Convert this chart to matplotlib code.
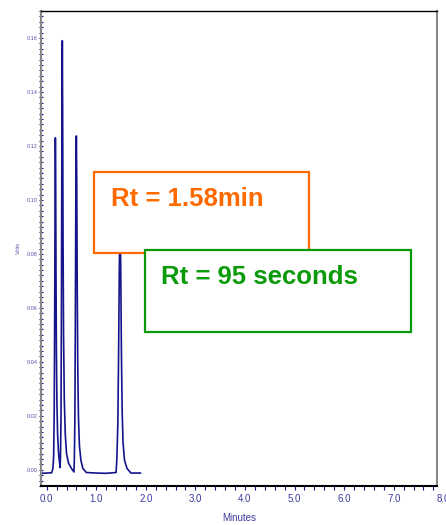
import matplotlib
matplotlib.use("Agg")
import matplotlib.pyplot as plt
from matplotlib.patches import Rectangle
from matplotlib.ticker import MultipleLocator
import matplotlib.transforms as mtransforms

plt.rcParams["font.family"] = ["Liberation Sans", "DejaVu Sans"]

# chromatogram trace (minutes, volts)
minutes = [-0.115, 0.00, 0.10, 0.125, 0.14, 0.152, 0.162, 0.170, 0.175, 0.181, 0.188,
           0.196, 0.206, 0.22, 0.24, 0.26, 0.27,
           0.278, 0.288, 0.298, 0.307, 0.315, 0.322, 0.33, 0.34, 0.355, 0.375, 0.40,
           0.44, 0.50, 0.55,
           0.558, 0.568, 0.578, 0.589, 0.598, 0.606, 0.615, 0.626, 0.64, 0.66, 0.69,
           0.73, 0.80, 1.00, 1.20, 1.40,
           1.415, 1.435, 1.45, 1.465, 1.48, 1.493, 1.507, 1.522, 1.54, 1.57, 1.62,
           1.70, 1.80, 1.89]
volts = [-0.0013, -0.0012, -0.0011, 0.0005, 0.005, 0.022, 0.062, 0.105, 0.123, 0.108, 0.072,
         0.043, 0.025, 0.013, 0.006, 0.0025, 0.0008,
         0.005, 0.018, 0.065, 0.128, 0.159, 0.132, 0.085, 0.050, 0.026, 0.013, 0.006,
         0.0025, 0.0005, -0.0008,
         0.004, 0.018, 0.055, 0.108, 0.1237, 0.108, 0.070, 0.040, 0.020, 0.009, 0.0035,
         0.0005, -0.0010, -0.0012, -0.0013, -0.0010,
         0.004, 0.017, 0.042, 0.075, 0.090, 0.076, 0.044, 0.022, 0.010, 0.0035, 0.0005,
         -0.0012, -0.0012, -0.0012]

x_ticks = [0, 1, 2, 3, 4, 5, 6, 7]
y_ticks = [0.00, 0.02, 0.04, 0.06, 0.08, 0.10, 0.12, 0.14, 0.16]

notes = ["Rt = 1.58min", "Rt = 95 seconds"]
note_colors = ["#ff6a00", "#0a9a0a"]

fig = plt.figure(figsize=(4.46, 5.25), dpi=100)
ax = fig.add_axes([41 / 446, 1 - 486 / 525, 396.3 / 446, 475 / 525])

ax.plot(minutes, volts, color="#14148c", lw=1.2)

ax.set_xlim(-0.115, 7.88)
ax.set_ylim(-0.006, 0.17)
ax.set_xticks(x_ticks)
ax.set_xticklabels([f"{t:.1f}" for t in x_ticks])
ax.set_yticks(y_ticks)
ax.set_yticklabels([f"{t:.2f}" for t in y_ticks])
ax.xaxis.set_minor_locator(MultipleLocator(0.2))
ax.yaxis.set_minor_locator(MultipleLocator(0.002))

ax.tick_params(axis="x", which="both", direction="out", length=3, width=0.8,
               color="#14148c", labelsize=7, labelcolor="#3a3aa0", pad=3)
ax.tick_params(axis="y", which="both", direction="inout", length=3, width=0.8,
               color="#14148c", labelsize=4, labelcolor="#5555aa", pad=1)

for side in ["left", "right"]:
    ax.spines[side].set_color("#888888")
    ax.spines[side].set_linewidth(1.5)
ax.spines["top"].set_color("black")
ax.spines["top"].set_linewidth(1.0)
ax.spines["bottom"].set_color("black")
ax.spines["bottom"].set_linewidth(1.5)

ax.set_xlabel("Minutes", fontsize=7, color="#3a3aa0", labelpad=6)
ax.set_ylabel("Volts", fontsize=4, color="#5555aa", labelpad=4)

# last x label sits just past the right end of the axes
trans = mtransforms.blended_transform_factory(ax.transData, fig.transFigure)
ax.text(8.0, 1 - 498.5 / 525, "8.0", transform=trans, ha="center", va="center",
        fontsize=7, color="#3a3aa0", clip_on=False)

# annotation boxes (figure pixels)
boxes = [(94, 172.3, 308.5, 252.5), (144.7, 250, 410.7, 331.7)]
text_pos = [(111, 205.7), (160.7, 284.3)]
for (x0, y0, x1, y1), (tx, ty), label, col in zip(boxes, text_pos, notes, note_colors):
    rect = Rectangle((x0 / 446, 1 - y1 / 525), (x1 - x0) / 446, (y1 - y0) / 525,
                     transform=fig.transFigure, facecolor="white", edgecolor=col,
                     linewidth=1.6, zorder=2)
    fig.add_artist(rect)
    fig.text(tx / 446, 1 - ty / 525, label, color=col, fontsize=18.5,
             fontweight="bold", va="baseline", ha="left", zorder=3)

fig.savefig("out.png", dpi=100)
